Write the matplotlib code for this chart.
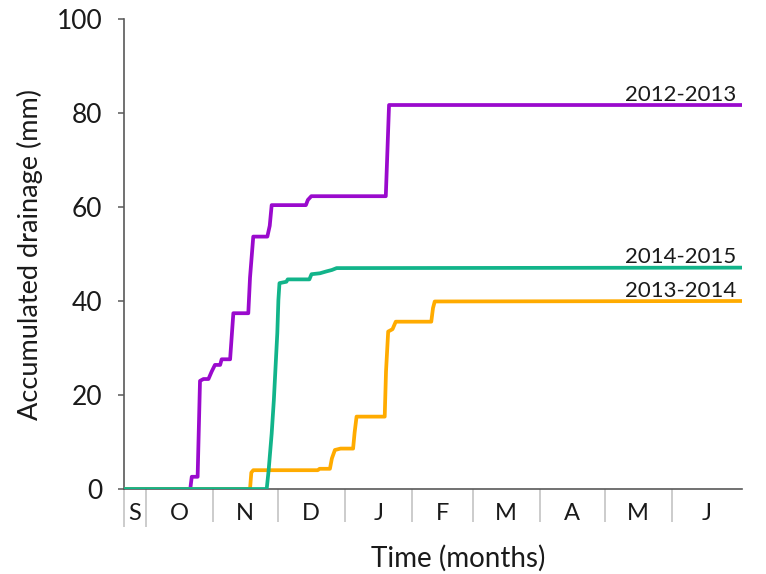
import matplotlib
matplotlib.use("Agg")
import matplotlib.pyplot as plt

plt.rcParams["font.family"] = ["Lato", "DejaVu Sans"]

# Days counted from 21 September of each drainage season
days_2012 = [0, 30.6, 31.3, 34.0, 35.1, 36.7, 39.0, 40.5, 42.0, 44.4, 45.1, 49.0, 50.5,
             57.4, 58.2, 59.7, 66.2, 67.3, 68.2, 84.0, 84.9, 86.5, 120.9, 121.5, 122.4, 285.4]
drain_2012 = [0, 0, 2.6, 2.6, 23.0, 23.4, 23.4, 25.0, 26.4, 26.4, 27.6, 27.6, 37.4,
              37.4, 45.0, 53.7, 53.7, 56.0, 60.4, 60.4, 61.5, 62.3, 62.3, 70.0, 81.7, 81.7]

days_2013 = [0, 58.2, 58.8, 59.7, 89.5, 90.3, 95.1, 96.0, 97.4, 100.0, 105.8, 106.5, 107.4,
             120.4, 121.0, 122.0, 124.0, 125.5, 141.9, 142.7, 143.5, 285.4]
drain_2013 = [0, 0, 3.5, 4.0, 4.0, 4.3, 4.3, 6.5, 8.3, 8.6, 8.6, 12.0, 15.4,
              15.4, 25.0, 33.5, 34.0, 35.6, 35.6, 38.5, 39.9, 40.0]

days_2014 = [0, 65.9, 66.8, 68.2, 69.2, 70.8, 71.3, 71.8, 75.0, 75.6, 85.6, 86.6,
             90.5, 93.5, 96.0, 98.2, 285.4]
drain_2014 = [0, 0, 4.0, 11.8, 18.9, 33.2, 40.2, 43.8, 44.1, 44.6, 44.6, 45.7,
              45.9, 46.3, 46.6, 47.0, 47.1]

season_labels = ["2012-2013", "2013-2014", "2014-2015"]
season_colors = ["#9A0ACD", "#FFAB00", "#12B48A"]

month_names = ["S", "O", "N", "D", "J", "F", "M", "A", "M", "J"]
month_edges = [0, 10, 41, 71, 102, 133, 161, 192, 222, 253, 285.4]

fig = plt.figure(figsize=(7.66, 5.74), dpi=100)
ax = fig.add_axes([124 / 766, 1 - 489 / 574, 618 / 766, 470 / 574])

series = [(days_2012, drain_2012), (days_2013, drain_2013), (days_2014, drain_2014)]
for (d, v), lab, col in zip(series, season_labels, season_colors):
    ax.plot(d, v, color=col, lw=2.7, solid_joinstyle="round", label=lab, zorder=3)
    ax.annotate(lab, xy=(d[-1], v[-1]), xytext=(-4, 3), textcoords="offset points",
                ha="right", va="baseline", fontsize=16, color="#1a1a1a")

ax.set_xlim(0, 285.4)
ax.set_ylim(0, 100)

for side in ("top", "right"):
    ax.spines[side].set_visible(False)
for side in ("left", "bottom"):
    ax.spines[side].set_color("#595959")
    ax.spines[side].set_linewidth(1.2)
    ax.spines[side].set_zorder(2)

ax.set_yticks([0, 20, 40, 60, 80, 100])
ax.tick_params(axis="y", direction="out", length=4.5, width=1.1, color="#595959",
               pad=11, labelsize=19, labelcolor="#1a1a1a")

# Month names centred between month boundaries
centers = [(a + b) / 2 for a, b in zip(month_edges[:-1], month_edges[1:])]
ax.set_xticks(centers)
ax.set_xticklabels(month_names)
ax.tick_params(axis="x", which="major", length=0, pad=10, labelsize=17,
               labelcolor="#1a1a1a")
ax.set_xticks(month_edges[:-1], minor=True)
ax.tick_params(axis="x", which="minor", direction="out", length=24, width=1.1,
               color="#BFBFBF")
for t in ax.xaxis.get_minor_ticks()[:2]:
    t.tick1line.set_color("#404040")
    t.tick1line.set_markersize(27)

ax.set_ylabel("Accumulated drainage (mm)", fontsize=19.5, color="#1a1a1a")
ax.yaxis.label.set(va="center", ha="center")
ax.yaxis.set_label_coords(-0.152, 0.498)
ax.set_xlabel("Time (months)", fontsize=20, color="#1a1a1a")
ax.xaxis.label.set(va="center", ha="center")
ax.xaxis.set_label_coords(0.54, -0.147)

fig.savefig("out.png", dpi=100)
